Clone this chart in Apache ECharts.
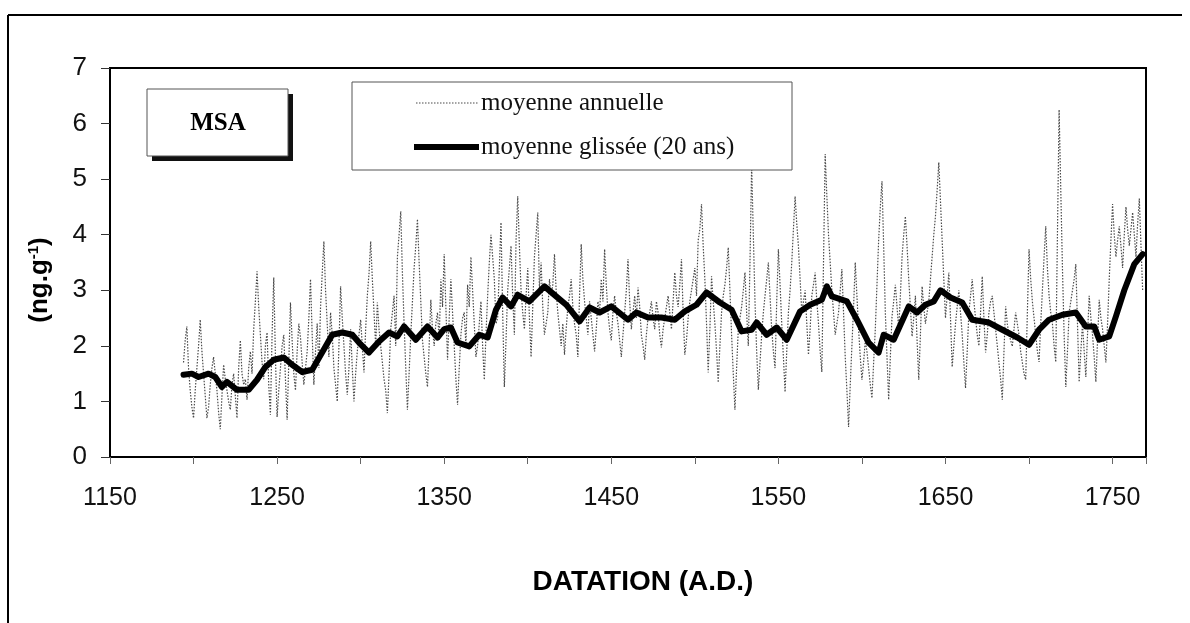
<!DOCTYPE html>
<html>
<head>
<meta charset="utf-8">
<script src="https://cdn.jsdelivr.net/npm/echarts@6/dist/echarts.min.js"></script>
<style>
html,body{margin:0;padding:0;background:#fff;}
#chart{width:1190px;height:623px;}
</style>
</head>
<body>
<div id="chart"></div>
<script>
// Annual mean MSA (ng/g), even years, [year, value]
const annualEven = [
[1194,1.7],[1196,2.35],[1198,1.2],[1200,0.7],[1202,1.6],[1204,2.47],[1206,1.5],[1208,0.7],[1210,1.3],[1212,1.8],
[1214,1.2],[1216,0.5],[1218,1.66],[1220,1.2],[1222,0.85],[1224,1.5],[1226,0.7],[1228,2.1],[1230,1.3],[1232,1.03],
[1234,1.9],[1236,2.3],[1238,3.34],[1240,2.2],[1242,1.4],[1244,2.24],[1246,0.76],[1248,3.23],[1250,0.72],[1252,1.6],
[1254,2.2],[1256,0.67],[1258,2.78],[1260,1.5],[1262,1.9],[1264,2.15],[1266,1.3],[1268,1.9],[1270,3.2],[1272,1.3],
[1274,2.4],[1276,2.7],[1278,3.88],[1280,2.4],[1282,2.6],[1284,1.6],[1286,1.0],[1288,3.07],[1290,2.0],[1292,1.12],
[1294,2.3],[1296,1.0],[1298,1.9],[1300,2.47],[1302,1.52],[1304,2.9],[1306,3.88],[1308,2.6],[1310,2.78],[1312,2.0],
[1314,1.4],[1316,0.79],[1318,2.3],[1320,2.9],[1322,3.6],[1324,4.42],[1326,2.4],[1328,0.85],[1330,2.2],[1332,3.4],
[1334,4.28],[1336,2.8],[1338,1.8],[1340,1.26],[1342,2.83],[1344,2.0],[1346,2.6],[1348,3.2],[1350,3.65],[1352,1.75],
[1354,3.2],[1356,2.0],[1358,0.94],[1360,2.2],[1362,2.6],[1364,3.1],[1366,3.6],[1368,2.4],[1370,2.0],[1372,2.8],
[1374,1.39],[1376,2.9],[1378,4.0],[1380,3.2],[1382,2.5],[1384,4.22],[1386,1.26],[1388,3.0],[1390,3.8],[1392,2.2],
[1394,4.69],[1396,3.0],[1398,2.3],[1400,3.4],[1402,1.8],[1404,3.6],[1406,4.4],[1408,3.5],[1410,2.2],[1412,2.6],
[1414,2.9],[1416,3.65],[1418,2.6],[1420,2.0],[1422,1.84],[1424,2.7],[1426,3.2],[1428,2.4],[1430,1.8],[1432,3.83],
[1434,2.8],[1436,2.2],[1438,2.5],[1440,1.9],[1442,2.8],[1444,3.2],[1446,3.74],[1448,2.6],[1450,2.1],[1452,2.9],
[1454,2.4],[1456,1.8],[1458,2.6],[1460,3.56],[1462,2.3],[1464,2.9],[1466,3.05],[1468,2.2],[1470,1.75],[1472,2.5],
[1474,2.8],[1476,2.3],[1478,2.6],[1480,1.97],[1482,2.5],[1484,2.9],[1486,2.3],[1488,3.32],[1490,2.7],[1492,3.56],
[1494,1.84],[1496,2.5],[1498,3.0],[1500,3.4],[1502,3.9],[1504,4.55],[1506,3.2],[1508,1.52],[1510,3.25],[1512,2.4],
[1514,1.34],[1516,2.6],[1518,3.1],[1520,3.77],[1522,2.2],[1524,0.85],[1526,2.3],[1528,2.7],[1530,3.32],[1532,2.0],
[1534,5.25],[1536,2.8],[1538,1.21],[1540,2.2],[1542,2.9],[1544,3.5],[1546,2.3],[1548,1.6],[1550,3.74],[1552,2.4],
[1554,1.17],[1556,2.6],[1558,3.5],[1560,4.69],[1562,3.79],[1564,2.6],[1566,3.0],[1568,1.84],[1570,2.9],[1572,3.32],
[1574,2.4],[1576,1.53],[1578,5.45],[1580,4.0],[1582,3.0],[1584,2.2],[1586,2.6],[1588,3.38],[1590,1.8],[1592,0.54],
[1594,2.0],[1596,3.5],[1598,2.3],[1600,1.39],[1602,2.1],[1604,1.6],[1606,1.06],[1608,2.3],[1610,3.9],[1612,4.96],
[1614,2.6],[1616,1.03],[1618,2.53],[1620,3.1],[1622,2.3],[1624,3.6],[1626,4.33],[1628,3.2],[1630,2.17],[1632,2.9],
[1634,1.39],[1636,3.07],[1638,2.4],[1640,2.8],[1642,3.6],[1644,4.33],[1646,5.3],[1648,3.9],[1650,2.5],[1652,3.32],
[1654,1.62],[1656,2.4],[1658,3.0],[1660,2.2],[1662,1.24],[1664,2.6],[1666,3.2],[1668,2.5],[1670,2.0],[1672,3.25],
[1674,1.88],[1676,2.6],[1678,2.9],[1680,2.3],[1682,1.7],[1684,1.03],[1686,2.71],[1688,2.2],[1690,1.99],[1692,2.6],
[1694,2.2],[1696,1.7],[1698,1.39],[1700,3.74],[1702,2.8],[1704,2.2],[1706,1.71],[1708,3.0],[1710,4.15],[1712,2.9],
[1714,2.4],[1716,1.71],[1718,6.25],[1720,3.4],[1722,1.26],[1724,2.6],[1726,3.0],[1728,3.47],[1730,1.35],[1732,2.4],
[1734,1.44],[1736,2.9],[1738,2.2],[1740,1.35],[1742,2.83],[1744,2.3],[1746,1.7],[1748,3.2],[1750,4.55],[1752,3.6],
[1754,4.15],[1756,3.4],[1758,4.5],[1760,3.8],[1762,4.4],[1764,3.6],[1766,4.65],[1768,3.0]
];

// Annual mean MSA (ng/g), odd years, [year, value]
const annualOdd = [
[1195,2.1],[1197,1.6],[1199,0.9],[1201,1.2],[1203,2.0],[1205,1.9],[1207,1.1],[1209,0.9],[1211,1.6],[1213,1.5],
[1215,0.8],[1217,1.1],[1219,1.4],[1221,1.0],[1223,1.3],[1225,1.1],[1227,1.6],[1229,1.5],[1231,1.4],[1233,1.6],
[1235,1.5],[1237,2.8],[1239,2.7],[1241,1.7],[1243,2.0],[1245,1.3],[1247,2.2],[1249,1.8],[1251,1.2],[1253,2.0],
[1255,1.4],[1257,1.7],[1259,2.1],[1261,1.2],[1263,2.4],[1265,1.7],[1267,1.6],[1269,2.5],[1271,2.2],[1273,1.9],
[1275,1.6],[1277,3.3],[1279,3.0],[1281,1.8],[1283,2.2],[1285,1.3],[1287,2.0],[1289,2.5],[1291,1.5],[1293,1.6],
[1295,1.6],[1297,1.5],[1299,2.2],[1301,2.0],[1303,2.3],[1305,3.3],[1307,3.2],[1309,2.0],[1311,2.3],[1313,1.7],
[1315,1.2],[1317,1.5],[1319,2.6],[1321,2.0],[1323,4.0],[1325,3.3],[1327,1.6],[1329,1.5],[1331,2.8],[1333,3.8],
[1335,3.5],[1337,2.1],[1339,1.5],[1341,2.0],[1343,2.3],[1345,2.4],[1347,2.1],[1349,2.7],[1351,2.7],[1353,2.5],
[1355,2.6],[1357,1.4],[1359,1.6],[1361,2.5],[1363,2.0],[1365,2.7],[1367,3.0],[1369,1.8],[1371,2.4],[1373,2.0],
[1375,2.2],[1377,3.5],[1379,3.6],[1381,2.4],[1383,3.4],[1385,2.6],[1387,2.1],[1389,3.4],[1391,2.9],[1393,3.9],
[1395,3.8],[1397,2.6],[1399,2.9],[1401,2.5],[1403,2.7],[1405,4.0],[1407,3.0],[1409,2.7],[1411,2.4],[1413,3.2],
[1415,3.1],[1417,3.0],[1419,2.3],[1421,2.4],[1423,2.3],[1425,2.9],[1427,2.7],[1429,2.2],[1431,2.9],[1433,3.2],
[1435,2.5],[1437,2.8],[1439,2.2],[1441,2.3],[1443,2.6],[1445,2.8],[1447,3.1],[1449,2.3],[1451,2.6],[1453,2.6],
[1455,2.1],[1457,2.2],[1459,3.0],[1461,2.8],[1463,2.6],[1465,2.5],[1467,2.7],[1469,2.0],[1471,2.2],[1473,2.6],
[1475,2.5],[1477,2.8],[1479,2.2],[1481,2.3],[1483,2.7],[1485,2.6],[1487,2.8],[1489,2.9],[1491,3.1],[1493,2.6],
[1495,2.1],[1497,2.8],[1499,3.2],[1501,2.9],[1503,4.1],[1505,3.8],[1507,2.4],[1509,2.3],[1511,2.8],[1513,1.9],
[1515,2.0],[1517,2.9],[1519,3.4],[1521,3.0],[1523,1.5],[1525,1.6],[1527,2.5],[1529,3.0],[1531,2.6],[1533,3.5],
[1535,4.0],[1537,1.9],[1539,1.7],[1541,2.6],[1543,3.2],[1545,2.9],[1547,1.9],[1549,2.8],[1551,3.1],[1553,1.8],
[1555,1.9],[1557,3.0],[1559,4.1],[1561,4.2],[1563,3.2],[1565,2.8],[1567,2.4],[1569,2.3],[1571,3.1],[1573,2.8],
[1575,1.9],[1577,3.5],[1579,4.7],[1581,3.5],[1583,2.6],[1585,2.4],[1587,3.0],[1589,2.6],[1591,1.2],[1593,1.3],
[1595,2.7],[1597,2.9],[1599,1.8],[1601,1.7],[1603,1.9],[1605,1.3],[1607,1.7],[1609,3.1],[1611,4.5],[1613,3.8],
[1615,1.8],[1617,1.8],[1619,2.8],[1621,2.7],[1623,2.9],[1625,4.0],[1627,3.8],[1629,2.7],[1631,2.5],[1633,2.1],
[1635,2.2],[1637,2.7],[1639,2.6],[1641,3.2],[1643,4.0],[1645,4.8],[1647,4.6],[1649,3.2],[1651,2.9],[1653,2.5],
[1655,2.0],[1657,2.7],[1659,2.6],[1661,1.7],[1663,1.9],[1665,2.9],[1667,2.8],[1669,2.2],[1671,2.6],[1673,2.5],
[1675,2.2],[1677,2.8],[1679,2.6],[1681,2.0],[1683,1.4],[1685,1.9],[1687,2.4],[1689,2.1],[1691,2.3],[1693,2.4],
[1695,1.9],[1697,1.5],[1699,2.6],[1701,3.2],[1703,2.5],[1705,1.9],[1707,2.4],[1709,3.6],[1711,3.4],[1713,2.6],
[1715,2.0],[1717,4.0],[1719,4.8],[1721,2.2],[1723,1.9],[1725,2.8],[1727,3.2],[1729,2.4],[1731,1.9],[1733,1.9],
[1735,2.2],[1737,2.5],[1739,1.8],[1741,2.1],[1743,2.5],[1745,2.0],[1747,2.4],[1749,3.9],[1751,4.0],[1753,3.9],
[1755,3.8],[1757,4.0],[1759,4.1],[1761,4.1],[1763,4.0],[1765,4.2],[1767,3.8]
];

// 20-year running mean, [year, value]
const smoothed = [
[1194,1.48],[1199,1.5],[1203,1.44],[1209,1.5],[1213,1.44],[1217,1.26],[1220,1.35],[1226,1.21],[1233,1.21],[1238,1.39],
[1243,1.62],[1248,1.75],[1254,1.79],[1259,1.66],[1265,1.53],[1271,1.57],[1279,1.99],[1283,2.2],[1289,2.24],[1295,2.2],
[1299,2.06],[1305,1.88],[1311,2.08],[1317,2.24],[1322,2.17],[1326,2.35],[1333,2.11],[1340,2.35],[1346,2.15],[1350,2.3],
[1354,2.33],[1358,2.06],[1365,1.99],[1371,2.2],[1376,2.15],[1381,2.65],[1385,2.87],[1390,2.71],[1394,2.92],[1401,2.8],
[1410,3.07],[1417,2.89],[1423,2.74],[1431,2.44],[1437,2.69],[1443,2.6],[1450,2.71],[1460,2.47],[1465,2.6],[1472,2.51],
[1480,2.51],[1488,2.47],[1494,2.62],[1501,2.74],[1507,2.96],[1515,2.78],[1522,2.65],[1528,2.26],[1534,2.29],[1537,2.42],
[1543,2.2],[1549,2.33],[1555,2.11],[1563,2.62],[1569,2.74],[1576,2.83],[1579,3.07],[1582,2.89],[1591,2.8],[1597,2.47],
[1604,2.06],[1610,1.88],[1613,2.2],[1619,2.11],[1628,2.71],[1633,2.6],[1638,2.74],[1643,2.8],[1647,3.0],[1653,2.87],
[1660,2.78],[1666,2.47],[1676,2.42],[1684,2.29],[1693,2.15],[1700,2.02],[1706,2.29],[1712,2.47],[1720,2.56],[1728,2.6],
[1734,2.35],[1739,2.35],[1742,2.11],[1748,2.17],[1752,2.53],[1757,3.0],[1763,3.47],[1768,3.65]
];

const seriesNames = ['moyenne annuelle', 'moyenne glissée (20 ans)'];
const xTickLabels = ['1150','1250','1350','1450','1550','1650','1750'];
const yTickLabels = ['0','1','2','3','4','5','6','7'];

const annual = annualEven.concat(annualOdd).sort(function(a,b){ return a[0]-b[0]; });

const chart = echarts.init(document.getElementById('chart'), null, {renderer:'canvas'});
const sans = '"Liberation Sans", Arial, sans-serif';
const serif = '"Liberation Serif", "Times New Roman", serif';

chart.setOption({
  animation:false,
  backgroundColor:'#fff',
  grid:{left:110, top:68, right:44, bottom:166, show:true, borderColor:'#000', borderWidth:2, backgroundColor:'transparent'},
  xAxis:{
    type:'value', min:1150, max:1770, interval:100,
    axisLine:{show:true, onZero:false, lineStyle:{color:'#000', width:2}},
    axisTick:{show:true, inside:false, length:7, lineStyle:{color:'#666', width:1}},
    minorTick:{show:true, splitNumber:2, length:7, lineStyle:{color:'#666', width:1}},
    splitLine:{show:false},
    axisLabel:{
      margin:29, fontFamily:sans, fontSize:25, color:'#111', showMaxLabel:false,
      formatter:function(v){ const s=String(Math.round(v)); return xTickLabels.indexOf(s)>=0 ? s : ''; }
    }
  },
  yAxis:{
    type:'value', min:0, max:7, interval:1,
    axisLine:{show:true, lineStyle:{color:'#000', width:2}},
    axisTick:{show:true, inside:false, length:9, lineStyle:{color:'#333', width:1}},
    splitLine:{show:false},
    axisLabel:{margin:23, fontFamily:sans, fontSize:26, color:'#111',
      formatter:function(v){ return yTickLabels[Math.round(v)]; }}
  },
  legend:{show:false, data:seriesNames},
  series:[
    {name:seriesNames[0], type:'line', data:annual, symbol:'none', z:2,
     lineStyle:{color:'#4a4a4a', width:1.2, type:[1.5,1.5]}, itemStyle:{color:'#4a4a4a'}},
    {name:seriesNames[1], type:'line', data:smoothed, symbol:'none', z:3,
     lineStyle:{color:'#000', width:6, join:'round', cap:'round'}, itemStyle:{color:'#000'}}
  ],
  graphic:[
    // outer frame
    {type:'line', shape:{x1:8, y1:15, x2:8, y2:623}, style:{stroke:'#000', lineWidth:2}},
    {type:'line', shape:{x1:8, y1:15, x2:1182, y2:15}, style:{stroke:'#000', lineWidth:2}},
    // MSA box with shadow
    {type:'rect', shape:{x:152, y:94, width:141, height:67}, style:{fill:'#111'}, z:10},
    {type:'rect', shape:{x:147, y:89, width:141, height:67}, style:{fill:'#fff', stroke:'#555', lineWidth:1}, z:11},
    {type:'text', x:218, y:124, style:{text:'MSA', font:'bold 25px '+serif, fill:'#000', align:'center', verticalAlign:'middle'}, z:12},
    // legend box
    {type:'rect', shape:{x:352, y:82, width:440, height:88}, style:{fill:'#fff', stroke:'#555', lineWidth:1}, z:10},
    {type:'line', shape:{x1:416, y1:103, x2:479, y2:103}, style:{stroke:'#4a4a4a', lineWidth:1.2, lineDash:[1.5,1.5]}, z:11},
    {type:'text', x:481, y:103, style:{text:seriesNames[0], font:'25px '+serif, fill:'#111', align:'left', verticalAlign:'middle'}, z:11},
    {type:'line', shape:{x1:414, y1:147, x2:479, y2:147}, style:{stroke:'#000', lineWidth:6}, z:11},
    {type:'text', x:481, y:147, style:{text:seriesNames[1], font:'25px '+serif, fill:'#111', align:'left', verticalAlign:'middle'}, z:11},
    // axis titles
    {type:'text', x:643, y:582, style:{text:'DATATION (A.D.)', font:'bold 28px '+sans, fill:'#000', align:'center', verticalAlign:'middle'}},
    {type:'text', x:40, y:280, rotation:Math.PI/2,
     style:{text:'(ng.g{sup|-1})', rich:{sup:{fontSize:15, fontWeight:'bold', fontFamily:sans, verticalAlign:'top', padding:[0,0,12,0]}},
            font:'bold 26px '+sans, fill:'#000', align:'center', verticalAlign:'middle'}}
  ]
});
</script>
</body>
</html>
